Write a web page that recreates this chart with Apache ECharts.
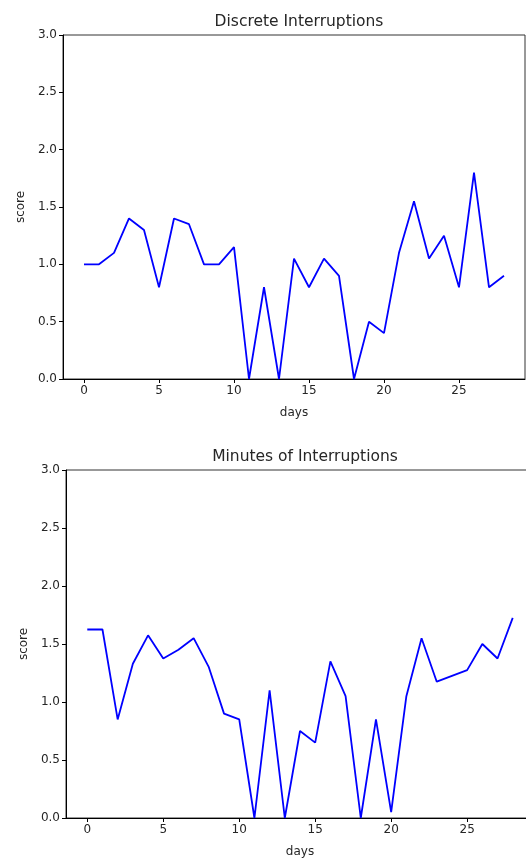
<!DOCTYPE html>
<html><head><meta charset="utf-8">
<script src="https://cdn.jsdelivr.net/npm/echarts@6/dist/echarts.min.js"></script>
<style>html,body{margin:0;padding:0;background:#fff;overflow:hidden;width:526px;height:859px}#c{width:540px;height:859px}</style>
</head><body><div id="c"></div>
<script>
const days = Array.from({length: 29}, (_, i) => i);
const discrete = [1.0, 1.0, 1.1, 1.4, 1.3, 0.8, 1.4, 1.35, 1.0, 1.0, 1.15, 0.0, 0.8, 0.0, 1.05, 0.8, 1.05, 0.9, 0.0, 0.5, 0.4, 1.1, 1.55, 1.05, 1.25, 0.8, 1.8, 0.8, 0.9];
const minutes = [1.625, 1.625, 0.85, 1.33, 1.575, 1.375, 1.45, 1.55, 1.3, 0.9, 0.85, 0.0, 1.1, 0.0, 0.75, 0.65, 1.35, 1.05, 0.0, 0.85, 0.05, 1.05, 1.55, 1.175, 1.225, 1.275, 1.5, 1.375, 1.725];
const xTicks = [0, 5, 10, 15, 20, 25];
const titles = ['Discrete Interruptions', 'Minutes of Interruptions'];

const font = 'DejaVu Sans';
const txt = '#262626';
function xAx(gi) {
  return {
    type: 'value', gridIndex: gi, min: -1.4, max: 29.4,
    name: 'days', nameLocation: 'middle', nameGap: 28,
    nameTextStyle: {fontFamily: font, fontSize: 12, color: txt},
    axisLine: {show: true, onZero: false, lineStyle: {color: '#000', width: 1}},
    axisTick: {show: true, length: 4, customValues: xTicks, lineStyle: {color: '#000'}},
    axisLabel: {customValues: xTicks, fontFamily: font, fontSize: 12, color: txt, margin: 6},
    splitLine: {show: false}
  };
}
function yAx(gi) {
  return {
    type: 'value', gridIndex: gi, min: 0, max: 3, interval: 0.5,
    name: 'score', nameLocation: 'middle', nameGap: 36, nameRotate: 90,
    nameTextStyle: {fontFamily: font, fontSize: 12, color: txt},
    axisLine: {show: true, onZero: false, lineStyle: {color: '#000', width: 1}},
    axisTick: {show: true, length: 4, lineStyle: {color: '#000'}},
    axisLabel: {fontFamily: font, fontSize: 12, color: txt, margin: 6, formatter: v => v.toFixed(1)},
    splitLine: {show: false}
  };
}
const chart = echarts.init(document.getElementById('c'), null, {renderer: 'canvas'});
chart.setOption({
  animation: false,
  backgroundColor: '#fff',
  title: [
    {text: titles[0], left: 294, top: 9, textAlign: 'center', textStyle: {fontFamily: font, fontSize: 15.5, fontWeight: 'normal', color: txt}},
    {text: titles[1], left: 300, top: 444, textAlign: 'center', textStyle: {fontFamily: font, fontSize: 15.5, fontWeight: 'normal', color: txt}}
  ],
  grid: [
    {left: 63, top: 35, width: 462, height: 344, show: true, borderColor: '#333', borderWidth: 1, backgroundColor: 'transparent'},
    {left: 66, top: 470, width: 468, height: 349, show: true, borderColor: '#333', borderWidth: 1, backgroundColor: 'transparent'}
  ],
  xAxis: [xAx(0), xAx(1)],
  yAxis: [yAx(0), yAx(1)],
  series: [
    {type: 'line', xAxisIndex: 0, yAxisIndex: 0, data: days.map((d, i) => [d, discrete[i]]), showSymbol: false, lineStyle: {color: '#0000ff', width: 1.8}, itemStyle: {color: '#0000ff'}},
    {type: 'line', xAxisIndex: 1, yAxisIndex: 1, data: days.map((d, i) => [d, minutes[i]]), showSymbol: false, lineStyle: {color: '#0000ff', width: 1.8}, itemStyle: {color: '#0000ff'}}
  ]
});
</script></body></html>
